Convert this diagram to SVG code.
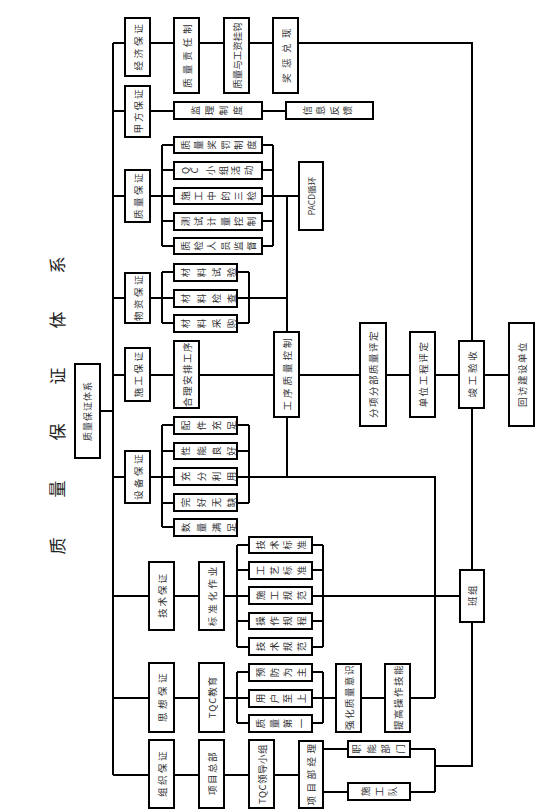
<svg xmlns="http://www.w3.org/2000/svg" width="542" height="812" viewBox="0 0 542 812">
<style>
.b{fill:#fff;stroke:#000;stroke-width:2}
.c{fill:none;stroke:#000;stroke-width:2}
text{font-family:"Noto Sans CJK SC","Noto Sans",sans-serif;font-size:9.5px;fill:#333;text-anchor:middle;dominant-baseline:central}
.ttl{font-size:17px;fill:#222}
</style>
<rect width="542" height="812" fill="#fff"/>
<g id="title">
<text class="ttl" transform="translate(56,546) rotate(-90)">质</text>
<text class="ttl" transform="translate(56,489) rotate(-90)">量</text>
<text class="ttl" transform="translate(56,432) rotate(-90)">保</text>
<text class="ttl" transform="translate(56,376) rotate(-90)">证</text>
<text class="ttl" transform="translate(56,320) rotate(-90)">体</text>
<text class="ttl" transform="translate(56,265) rotate(-90)">系</text>
</g>
<g id="connectors">
<path class="c" d="M100,411H113M113,43V775
M113,43H125M150,43H174M199,43H224M249,43H273M298,43H472V341
M113,111H125M150,111H174M262,111H286
M113,196H125M150,196H174M162,145V246M162,145H174M162,170H174M162,221H174M162,246H174
M262,145H273M262,170H273M262,196H299M262,221H273M262,246H273M273,145V246M287,196V332
M113,298H125M150,298H174M162,272V323M162,272H174M162,323H174M237,272H249M237,323H249M249,272V323M237,298H287
M113,375H125M150,375H174M199,375H274M299,375H360M386,375H410M435,375H459M484,375H509
M113,477H125M150,477H174M162,425V527M162,425H174M162,451H174M162,503H174M162,527H174
M237,425H249M237,451H249M237,503H249M249,425V503M237,477H435V698M287,417V477
M113,596H149M174,596H199M224,596H249M237,545V647M237,545H249M237,570H249M237,621H249M237,647H249
M312,545H323M312,570H323M312,621H323M312,647H323M323,545V647M312,596H460
M113,698H149M174,698H199M224,698H249M237,672V723M237,672H249M237,723H249
M312,672H323M312,723H323M323,672V723M312,698H336M361,698H385M410,698H435
M113,775H149M174,775H199M224,775H249M274,775H299
M323,749H348M323,792H348M410,749H435M410,792H435M435,749V792M435,766H472V622M472,408V570"/>
</g>
<g id="root"><rect class="b" x="75" y="364" width="25" height="94"/><text transform="translate(87.5,411) rotate(-90)" style="font-size:9px;letter-spacing:1px">质量保证体系</text></g>
<g id="jingji"><rect class="b" x="125" y="18" width="25" height="58"/><text transform="translate(137.5,46) rotate(-90)" style="letter-spacing:2.8px">经济保证</text></g>
<g id="zrz"><rect class="b" x="174" y="18" width="25" height="75"/><text transform="translate(186.5,54) rotate(-90)" style="letter-spacing:4px">质量责任制</text></g>
<g id="gzgg"><rect class="b" x="224" y="18" width="25" height="75"/><text transform="translate(236.5,55.5) rotate(-90)">质量与工资挂钩</text></g>
<g id="jcdx"><rect class="b" x="273" y="18" width="25" height="75"/><text transform="translate(285.5,53) rotate(-90)" style="letter-spacing:5.5px">奖惩兑现</text></g>
<g id="jiafang"><rect class="b" x="125" y="86" width="25" height="51"/><text transform="translate(137.5,110.5) rotate(-90)" style="letter-spacing:2px">甲方保证</text></g>
<g id="jlzd"><rect class="b" x="174" y="102" width="88" height="17"/>
<text transform="translate(195,110.5) rotate(-90)">监</text><text transform="translate(209,110.5) rotate(-90)">理</text><text transform="translate(223,110.5) rotate(-90)">制</text><text transform="translate(237,110.5) rotate(-90)">度</text></g>
<g id="xxfk"><rect class="b" x="286" y="102" width="87" height="17"/>
<text transform="translate(306.75,110.5) rotate(-90)">信</text><text transform="translate(320.25,110.5) rotate(-90)">息</text><text transform="translate(333.75,110.5) rotate(-90)">反</text><text transform="translate(347.25,110.5) rotate(-90)">馈</text></g>
<g id="zhiliang"><rect class="b" x="125" y="170" width="25" height="52"/><text transform="translate(137.5,195) rotate(-90)" style="letter-spacing:2.5px">质量保证</text></g>
<g id="q1"><rect class="b" x="174" y="137" width="88" height="16"/>
<text transform="translate(185,145) rotate(-90)">质</text><text transform="translate(198.2,145) rotate(-90)">量</text><text transform="translate(211.4,145) rotate(-90)">奖</text><text transform="translate(224.6,145) rotate(-90)">罚</text><text transform="translate(237.8,145) rotate(-90)">制</text><text transform="translate(251,145) rotate(-90)">度</text></g>
<g id="q2"><rect class="b" x="174" y="162" width="88" height="17"/>
<text transform="translate(185,170.5) rotate(-90)">Q</text><text transform="translate(194,170.5) rotate(-90)">C</text><text transform="translate(210,170.5) rotate(-90)">小</text><text transform="translate(222.5,170.5) rotate(-90)">组</text><text transform="translate(235,170.5) rotate(-90)">活</text><text transform="translate(248,170.5) rotate(-90)">动</text></g>
<g id="q3"><rect class="b" x="174" y="188" width="88" height="16"/>
<text transform="translate(185,196) rotate(-90)">施</text><text transform="translate(198.2,196) rotate(-90)">工</text><text transform="translate(211.4,196) rotate(-90)">中</text><text transform="translate(224.6,196) rotate(-90)">的</text><text transform="translate(237.8,196) rotate(-90)">三</text><text transform="translate(251,196) rotate(-90)">检</text></g>
<g id="q4"><rect class="b" x="174" y="213" width="88" height="17"/>
<text transform="translate(185,221.5) rotate(-90)">测</text><text transform="translate(198.2,221.5) rotate(-90)">试</text><text transform="translate(211.4,221.5) rotate(-90)">计</text><text transform="translate(224.6,221.5) rotate(-90)">量</text><text transform="translate(237.8,221.5) rotate(-90)">控</text><text transform="translate(251,221.5) rotate(-90)">制</text></g>
<g id="q5"><rect class="b" x="174" y="238" width="88" height="16"/>
<text transform="translate(185,246) rotate(-90)">质</text><text transform="translate(198.2,246) rotate(-90)">检</text><text transform="translate(211.4,246) rotate(-90)">人</text><text transform="translate(224.6,246) rotate(-90)">员</text><text transform="translate(237.8,246) rotate(-90)">监</text><text transform="translate(251,246) rotate(-90)">督</text></g>
<g id="pacd"><rect class="b" x="299" y="162" width="24" height="68"/><text transform="translate(311,196) rotate(-90)" style="font-size:8.5px">PACD循环</text></g>
<g id="wuzi"><rect class="b" x="125" y="273" width="25" height="50"/><text transform="translate(137.5,297) rotate(-90)" style="letter-spacing:2.5px">物资保证</text></g>
<g id="m1"><rect class="b" x="174" y="264" width="63" height="17"/>
<text transform="translate(185,272.5) rotate(-90)">材</text><text transform="translate(200.5,272.5) rotate(-90)">料</text><text transform="translate(216,272.5) rotate(-90)">试</text><text transform="translate(231,272.5) rotate(-90)">验</text></g>
<g id="m2"><rect class="b" x="174" y="290" width="63" height="17"/>
<text transform="translate(185,298.5) rotate(-90)">材</text><text transform="translate(200.5,298.5) rotate(-90)">料</text><text transform="translate(216,298.5) rotate(-90)">检</text><text transform="translate(231,298.5) rotate(-90)">查</text></g>
<g id="m3"><rect class="b" x="174" y="315" width="63" height="17"/>
<text transform="translate(185,323.5) rotate(-90)">材</text><text transform="translate(200.5,323.5) rotate(-90)">料</text><text transform="translate(216,323.5) rotate(-90)">采</text><text transform="translate(231,323.5) rotate(-90)">购</text></g>
<g id="shigong"><rect class="b" x="125" y="348" width="25" height="53"/><text transform="translate(137.5,373.5) rotate(-90)" style="letter-spacing:2.5px">施工保证</text></g>
<g id="hlap"><rect class="b" x="174" y="341" width="25" height="67"/><text transform="translate(186.5,374) rotate(-90)" style="letter-spacing:1.5px">合理安排工序</text></g>
<g id="gxzl"><rect class="b" x="274" y="332" width="25" height="85"/><text transform="translate(286.5,373) rotate(-90)" style="letter-spacing:3px">工序质量控制</text></g>
<g id="fxfb"><rect class="b" x="360" y="323" width="26" height="103"/><text transform="translate(373,374) rotate(-90)" style="letter-spacing:1.5px">分项分部质量评定</text></g>
<g id="dwgc"><rect class="b" x="410" y="332" width="25" height="85"/><text transform="translate(422.5,374) rotate(-90)" style="letter-spacing:1.7px">单位工程评定</text></g>
<g id="jgys"><rect class="b" x="459" y="341" width="25" height="67"/><text transform="translate(471.5,373) rotate(-90)" style="letter-spacing:2.8px">竣工验收</text></g>
<g id="hfjs"><rect class="b" x="509" y="323" width="25" height="103"/><text transform="translate(521.5,374) rotate(-90)" style="letter-spacing:1.5px">回访建设单位</text></g>
<g id="shebei"><rect class="b" x="125" y="451" width="25" height="52"/><text transform="translate(137.5,476) rotate(-90)" style="letter-spacing:2.5px">设备保证</text></g>
<g id="e1"><rect class="b" x="174" y="417" width="63" height="17"/>
<text transform="translate(185,425.5) rotate(-90)">配</text><text transform="translate(200.5,425.5) rotate(-90)">件</text><text transform="translate(216,425.5) rotate(-90)">充</text><text transform="translate(231,425.5) rotate(-90)">足</text></g>
<g id="e2"><rect class="b" x="174" y="443" width="63" height="16"/>
<text transform="translate(185,451) rotate(-90)">性</text><text transform="translate(200.5,451) rotate(-90)">能</text><text transform="translate(216,451) rotate(-90)">良</text><text transform="translate(231,451) rotate(-90)">好</text></g>
<g id="e3"><rect class="b" x="174" y="468" width="63" height="17"/>
<text transform="translate(185,476.5) rotate(-90)">充</text><text transform="translate(200.5,476.5) rotate(-90)">分</text><text transform="translate(216,476.5) rotate(-90)">利</text><text transform="translate(231,476.5) rotate(-90)">用</text></g>
<g id="e4"><rect class="b" x="174" y="494" width="63" height="17"/>
<text transform="translate(185,502.5) rotate(-90)">完</text><text transform="translate(200.5,502.5) rotate(-90)">好</text><text transform="translate(216,502.5) rotate(-90)">无</text><text transform="translate(231,502.5) rotate(-90)">缺</text></g>
<g id="e5"><rect class="b" x="174" y="519" width="63" height="17"/>
<text transform="translate(185,527.5) rotate(-90)">数</text><text transform="translate(200.5,527.5) rotate(-90)">量</text><text transform="translate(216,527.5) rotate(-90)">满</text><text transform="translate(231,527.5) rotate(-90)">足</text></g>
<g id="jishu"><rect class="b" x="149" y="562" width="25" height="68"/><text transform="translate(161.5,595) rotate(-90)" style="letter-spacing:2px">技术保证</text></g>
<g id="bzh"><rect class="b" x="199" y="562" width="25" height="68"/><text transform="translate(211.5,595) rotate(-90)" style="letter-spacing:3px">标准化作业</text></g>
<g id="t1"><rect class="b" x="249" y="537" width="63" height="16"/>
<text transform="translate(260.25,545) rotate(-90)">技</text><text transform="translate(273.75,545) rotate(-90)">术</text><text transform="translate(287.25,545) rotate(-90)">标</text><text transform="translate(300.75,545) rotate(-90)">准</text></g>
<g id="t2"><rect class="b" x="249" y="562" width="63" height="17"/>
<text transform="translate(260.25,570.5) rotate(-90)">工</text><text transform="translate(273.75,570.5) rotate(-90)">艺</text><text transform="translate(287.25,570.5) rotate(-90)">标</text><text transform="translate(300.75,570.5) rotate(-90)">准</text></g>
<g id="t3"><rect class="b" x="249" y="587" width="63" height="17"/>
<text transform="translate(260.25,595.5) rotate(-90)">施</text><text transform="translate(273.75,595.5) rotate(-90)">工</text><text transform="translate(287.25,595.5) rotate(-90)">规</text><text transform="translate(300.75,595.5) rotate(-90)">范</text></g>
<g id="t4"><rect class="b" x="249" y="613" width="63" height="16"/>
<text transform="translate(260.25,621) rotate(-90)">操</text><text transform="translate(273.75,621) rotate(-90)">作</text><text transform="translate(287.25,621) rotate(-90)">规</text><text transform="translate(300.75,621) rotate(-90)">程</text></g>
<g id="t5"><rect class="b" x="249" y="638" width="63" height="17"/>
<text transform="translate(260.25,646.5) rotate(-90)">技</text><text transform="translate(273.75,646.5) rotate(-90)">术</text><text transform="translate(287.25,646.5) rotate(-90)">规</text><text transform="translate(300.75,646.5) rotate(-90)">范</text></g>
<g id="banzu"><rect class="b" x="460" y="570" width="24" height="52"/><text transform="translate(472,595) rotate(-90)" style="letter-spacing:1.5px">班组</text></g>
<g id="sixiang"><rect class="b" x="149" y="663" width="25" height="69"/><text transform="translate(161.5,696) rotate(-90)" style="letter-spacing:3.5px">思想保证</text></g>
<g id="tqcjy"><rect class="b" x="199" y="663" width="25" height="69"/><text transform="translate(211.5,697) rotate(-90)" style="letter-spacing:1px">TQC教育</text></g>
<g id="s1"><rect class="b" x="249" y="664" width="63" height="17"/>
<text transform="translate(260.25,672.5) rotate(-90)">预</text><text transform="translate(273.75,672.5) rotate(-90)">防</text><text transform="translate(287.25,672.5) rotate(-90)">为</text><text transform="translate(300.75,672.5) rotate(-90)">主</text></g>
<g id="s2"><rect class="b" x="249" y="690" width="63" height="17"/>
<text transform="translate(260.25,698.5) rotate(-90)">用</text><text transform="translate(273.75,698.5) rotate(-90)">户</text><text transform="translate(287.25,698.5) rotate(-90)">至</text><text transform="translate(300.75,698.5) rotate(-90)">上</text></g>
<g id="s3"><rect class="b" x="249" y="715" width="63" height="17"/>
<text transform="translate(260.25,723.5) rotate(-90)">质</text><text transform="translate(273.75,723.5) rotate(-90)">量</text><text transform="translate(287.25,723.5) rotate(-90)">第</text><text transform="translate(300.75,723.5) rotate(-90)">一</text></g>
<g id="qhzl"><rect class="b" x="336" y="664" width="25" height="68"/><text transform="translate(348.5,697) rotate(-90)" style="letter-spacing:1.5px">强化质量意识</text></g>
<g id="tgcz"><rect class="b" x="385" y="664" width="25" height="68"/><text transform="translate(397.5,697) rotate(-90)" style="letter-spacing:1.5px">提高操作技能</text></g>
<g id="zuzhi"><rect class="b" x="149" y="740" width="25" height="68"/><text transform="translate(161.5,773) rotate(-90)" style="letter-spacing:2.5px">组织保证</text></g>
<g id="xmzb"><rect class="b" x="199" y="740" width="25" height="68"/><text transform="translate(211.5,773) rotate(-90)" style="letter-spacing:1.5px">项目总部</text></g>
<g id="tqcld"><rect class="b" x="249" y="740" width="25" height="68"/><text transform="translate(261.5,774) rotate(-90)" style="letter-spacing:0.5px">TQC领导小组</text></g>
<g id="xmbjl"><rect class="b" x="299" y="741" width="24" height="67"/><text transform="translate(311,773) rotate(-90)" style="letter-spacing:3.5px">项目部经理</text></g>
<g id="znbm"><rect class="b" x="348" y="741" width="62" height="16"/>
<text transform="translate(356,749) rotate(-90)">职</text><text transform="translate(370.5,749) rotate(-90)">能</text><text transform="translate(385,749) rotate(-90)">部</text><text transform="translate(399.5,749) rotate(-90)">门</text></g>
<g id="sgd"><rect class="b" x="348" y="783" width="62" height="17"/>
<text transform="translate(365,791.5) rotate(-90)">施</text><text transform="translate(378.5,791.5) rotate(-90)">工</text><text transform="translate(392,791.5) rotate(-90)">队</text></g>
</svg>
